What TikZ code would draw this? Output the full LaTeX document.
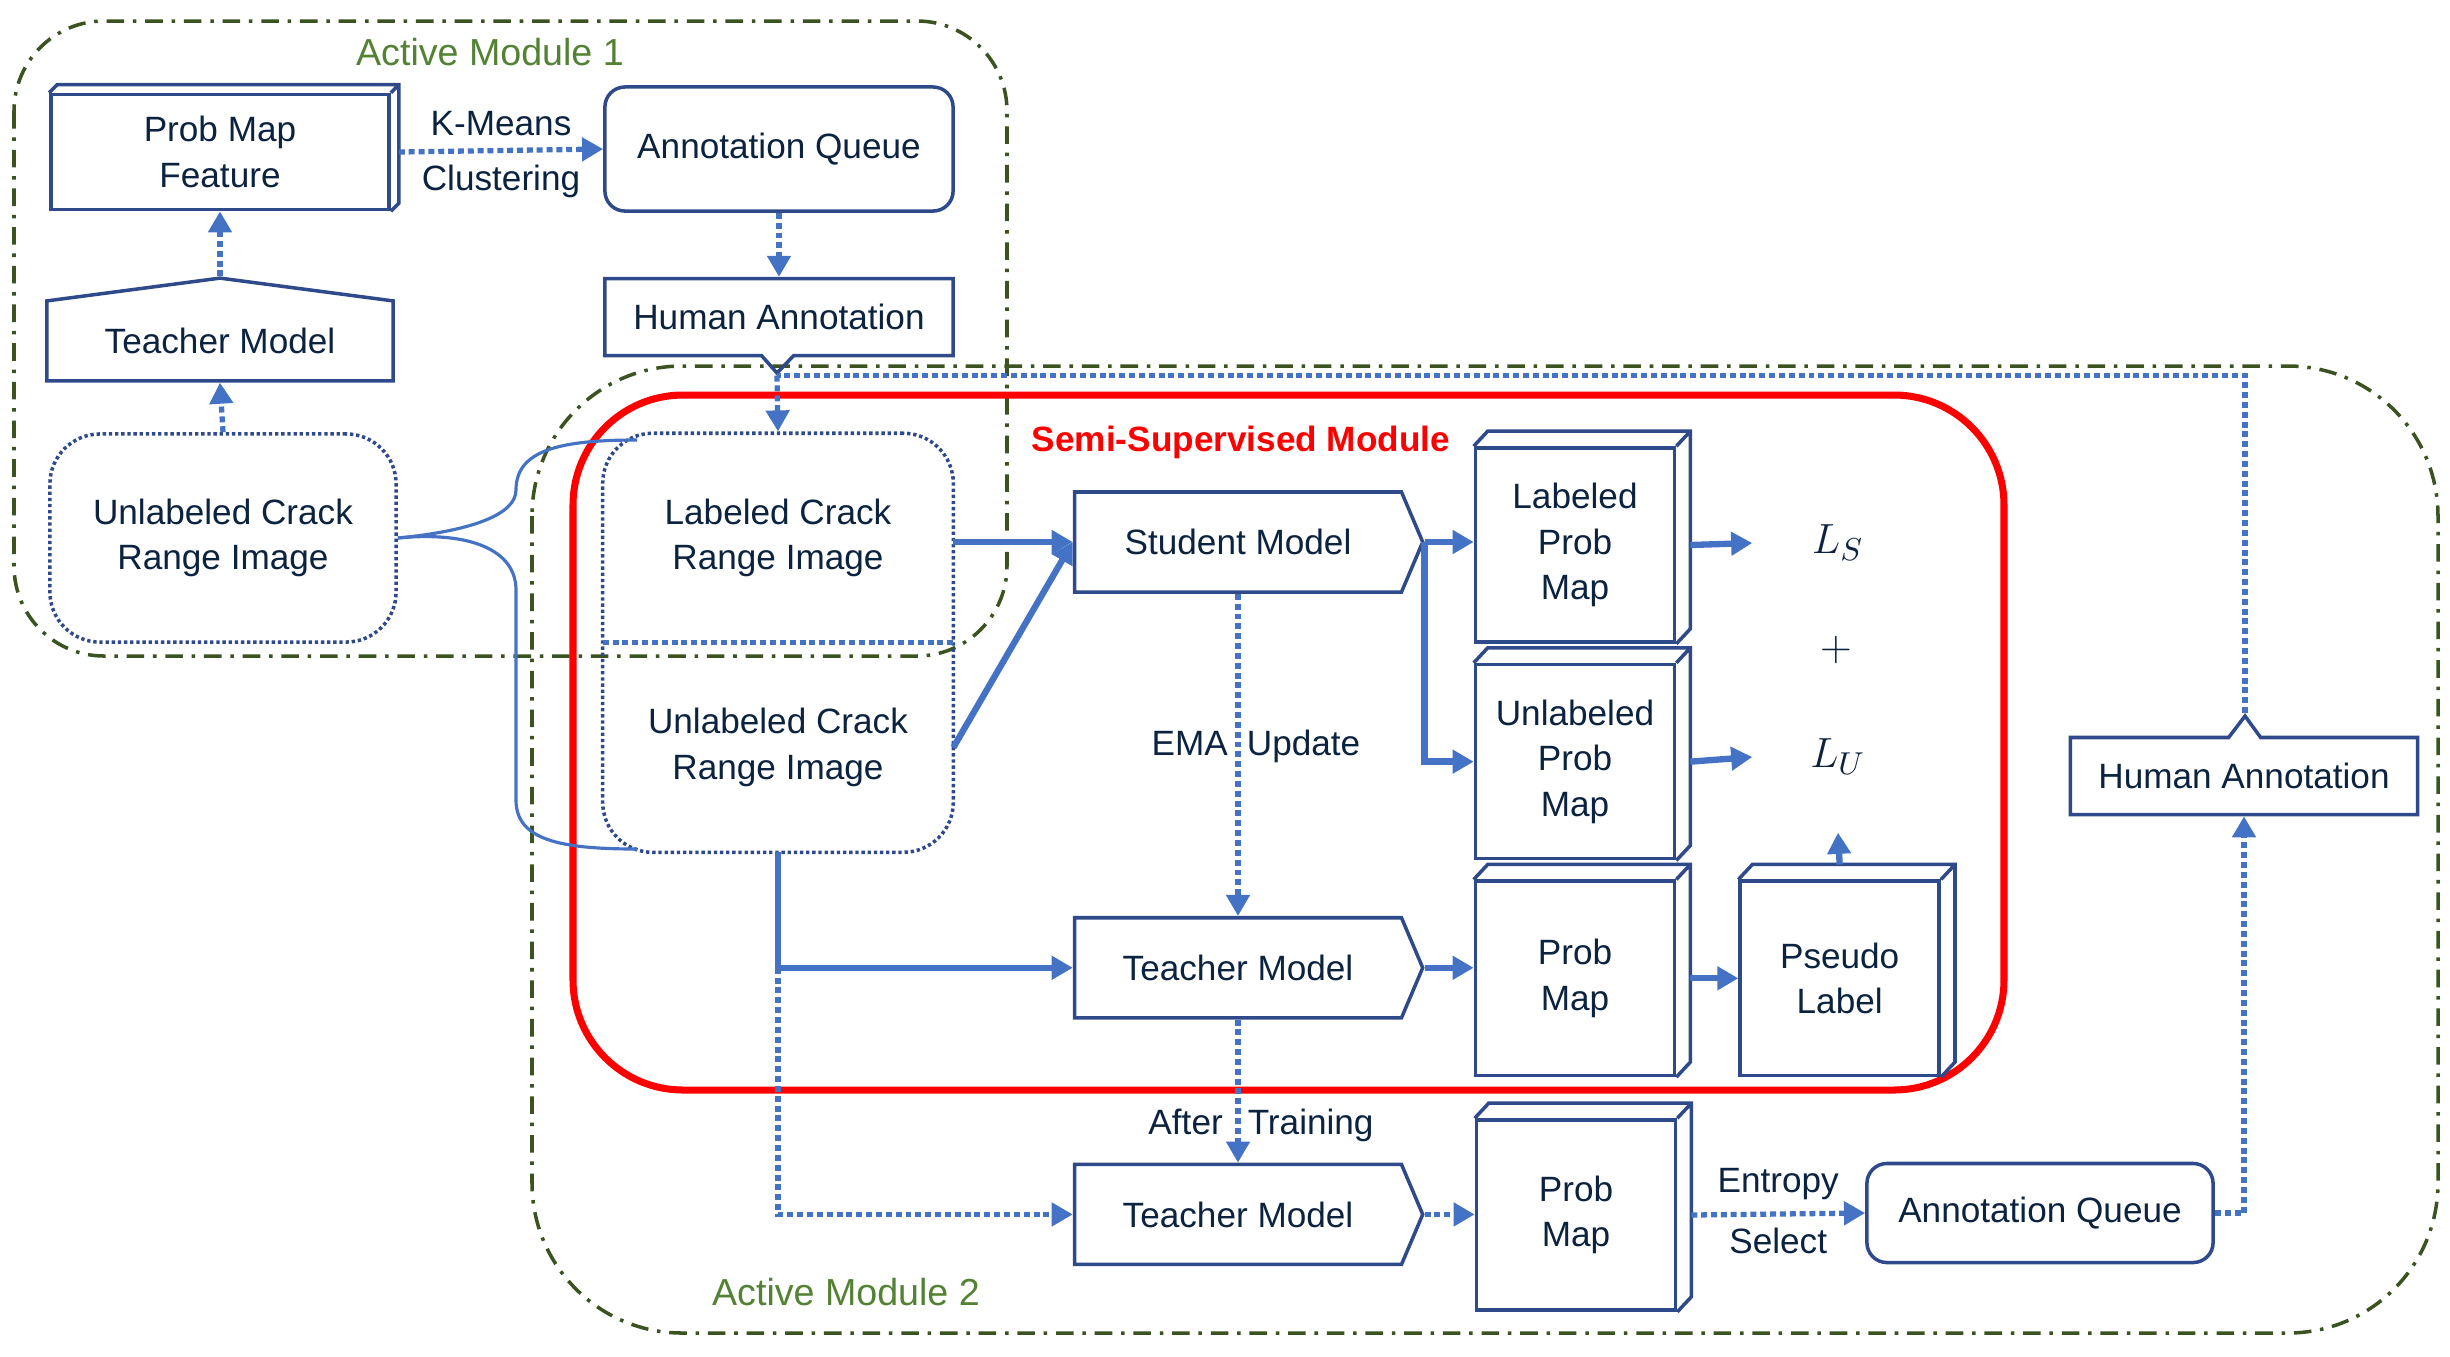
\documentclass[tikz,border=0pt]{standalone}
\usepackage{fontspec}
\setmainfont{Liberation Sans}
\usepackage{xcolor}
\usepackage{tikz}
\usetikzlibrary{positioning,arrows.meta,shapes.symbols,shapes.callouts,fit,calc}

\definecolor{navy}{HTML}{2F4A8A}
\definecolor{ink}{HTML}{0C2340}
\definecolor{flowblue}{HTML}{4472C4}
\definecolor{moss}{HTML}{3A5320}
\definecolor{leaf}{HTML}{548235}

\begin{document}
\begin{tikzpicture}[
  x=0.01cm, y=-0.01cm,
  font=\fontsize{10}{13}\selectfont, text=ink,
  box/.style={draw=navy, line width=1pt, align=center, minimum width=3.48cm, minimum height=1cm, inner sep=2pt},
  model/.style={box, signal, signal to=east, signal from=nowhere, signal pointer angle=134},
  cube/.style={box, minimum width=1.99cm, minimum height=1.94cm},
  dotbox/.style={draw=navy, line width=1pt, dash pattern=on 0.95pt off 0.8pt, rounded corners=0.5cm, align=center},
  flow/.style={-{Triangle[length=6pt,width=6.5pt]}, draw=flowblue, line width=1.8pt},
  dotflow/.style={flow, line width=1.5pt, dash pattern=on 1.7pt off 1.1pt},
  dotline/.style={draw=flowblue, line width=1.5pt, dash pattern=on 1.7pt off 1.1pt},
  frame/.style={draw=moss, line width=1pt, dash pattern=on 5pt off 2.5pt on 1pt off 2.5pt},
  loss/.style={minimum width=1.7cm, minimum height=1.5cm, font=\fontsize{13}{15}\selectfont},
  tag/.style={align=center}
]
\useasboundingbox (0,0) rectangle (2450,1356);

\draw[frame, rounded corners=0.9cm] (14,21) rectangle (1007,656);
\draw[frame, rounded corners=1.5cm] (532,366) rectangle (2438,1333);
\draw[red, line width=2pt, rounded corners=1.1cm] (573,395) rectangle (2004,1090);
\node[text=leaf, font=\fontsize{10.7}{13}\selectfont] (am1) at (490,52) {Active Module 1};
\node[text=leaf, font=\fontsize{10.7}{13}\selectfont] (am2) at (846,1292) {Active Module 2};
\node[text=red, font=\fontsize{10}{13}\selectfont\bfseries] (ssm) at (1241,442) {Semi-Supervised Module};

\coordinate (tiptop) at (777,373);
\coordinate (tipright) at (2245,716);

\node[box, minimum width=3.38cm, minimum height=1.15cm] (pmf) at (220,152) {Prob Map\\Feature};
\node[box, signal, signal to=north, signal from=nowhere, signal pointer angle=165, minimum width=3.46cm, minimum height=0.96cm, below=0.65cm of pmf] (tml) {Teacher Model};
\node[dotbox, minimum width=3.46cm, minimum height=2.08cm] (unll) at (223,538) {Unlabeled Crack\\Range Image};
\node[box, rounded corners=0.2cm, minimum height=1.24cm] (aqt) at (779,149) {Annotation Queue};
\node[box, rectangle callout, callout absolute pointer=(tiptop), callout pointer width=0.32cm, minimum height=0.77cm, below=0.64cm of aqt] (hat) {Human Annotation};

\node[tag, minimum width=3.49cm, minimum height=2.08cm] (lab) at (778,538) {Labeled Crack\\Range Image};
\node[tag, minimum width=3.49cm, minimum height=2.08cm, below=0cm of lab] (unlm) {Unlabeled Crack\\Range Image};
\node[dotbox, fit=(lab)(unlm), inner sep=0pt] (pair) {};

\node[model] (stu) at (1238,542) {Student Model};
\node[model, below=3.22cm of stu] (tmid) {Teacher Model};
\node[model, below=1.43cm of tmid] (tbot) {Teacher Model};

\node[cube] (lpm) at (1575,545) {Labeled\\Prob\\Map};
\node[cube, below=0.19cm of lpm] (upm) {Unlabeled\\Prob\\Map};
\node[cube, below=0.19cm of upm] (pm2) {Prob\\Map};
\node[cube, right=0.62cm of pm2] (pl) {Pseudo\\Label};
\node[cube, minimum height=1.9cm] (pm3) at (1576,1215) {Prob\\Map};

\node[loss] (ls) at (1838,543) {$L_S$};
\node[loss] (plus) at (1836,650) {$+$};
\node[loss] (lu) at (1838,757) {$L_U$};

\node[box, rounded corners=0.2cm, minimum width=3.46cm, minimum height=0.99cm] (aqb) at (2040,1213) {Annotation Queue};
\node[box, rectangle callout, callout absolute pointer=(tipright), callout pointer width=0.32cm, minimum width=3.47cm, minimum height=0.77cm] (hab) at (2244,776) {Human Annotation};

\node (ema) at (1256,746) {EMA\hspace{0.19cm}Update};
\node (aft) at (1261,1125) {After\hspace{0.25cm}Training};

\draw[navy, line width=1pt] (pmf.north west) -- ++(0.08cm,0.08cm) -- ($(pmf.north east)+(0.08cm,0.08cm)$) -- ($(pmf.south east)+(0.08cm,0.08cm)$) -- (pmf.south east) (pmf.north east) -- ++(0.08cm,0.08cm);
\foreach \n in {lpm,upm,pm2,pl,pm3}
  \draw[navy, line width=1pt] (\n.north west) -- ++(0.14cm,0.15cm) -- ($(\n.north east)+(0.14cm,0.15cm)$) -- ($(\n.south east)+(0.14cm,0.15cm)$) -- (\n.south east) (\n.north east) -- ++(0.14cm,0.15cm);
\draw[dotline] (lab.south west) -- (lab.south east);

\draw[flowblue, line width=0.9pt] (unll.east) .. controls (470,531) and (516,515) .. (516,490) .. controls (516,450) and (560,440) .. (637,440);
\draw[flowblue, line width=0.9pt] (unll.east) .. controls (470,531) and (516,550) .. (516,590) -- (516,800) .. controls (516,840) and (560,849) .. (637,849);

\draw[dotflow] (unll.north) -- (tml.south);
\draw[dotflow] (tml.north) -- (pmf.south);
\draw[dotflow] ([xshift=0.08cm]pmf.east) -- (aqt.west) node[midway, above] (km) {K-Means} node[midway, below] (cl) {Clustering};
\draw[dotflow] (aqt.south) -- (hat.north);
\draw[dotflow] (hat.pointer) -- (pair.north);
\draw[dotline] (hab.pointer) |- (hat.pointer);

\draw[flow] (stu.west -| lab.east) -- (stu.west);
\draw[flow] (unlm.east) -- (stu.west);
\draw[flow] (unlm.south) |- (tmid.west);
\draw[dotflow] (unlm.south |- tmid.west) |- (tbot.west);
\draw[flow] (stu.east) -- (stu.east -| lpm.west);
\draw[flow] (stu.east) |- (upm.west);
\draw[dotflow] (stu.south) -- (tmid.north);
\draw[dotflow] (tmid.south) -- (tbot.north);
\draw[flow] (tmid.east) -- (tmid.east -| pm2.west);
\draw[flow] ([xshift=0.14cm]pm2.east) -- (pl.west);
\draw[flow] ([xshift=0.14cm]lpm.east) -- (ls.west);
\draw[flow] ([xshift=0.14cm]upm.east) -- (lu.west);
\draw[flow] ([yshift=0.15cm]pl.north) -- (lu.south);
\draw[dotflow] (tbot.east) -- (tbot.east -| pm3.west);
\draw[dotflow] ([xshift=0.14cm]pm3.east) -- (aqb.west) node[midway, above] (ent) {Entropy} node[midway, below] (sel) {Select};
\draw[dotflow] (aqb.east) -| (hab.south);
\end{tikzpicture}
\end{document}
